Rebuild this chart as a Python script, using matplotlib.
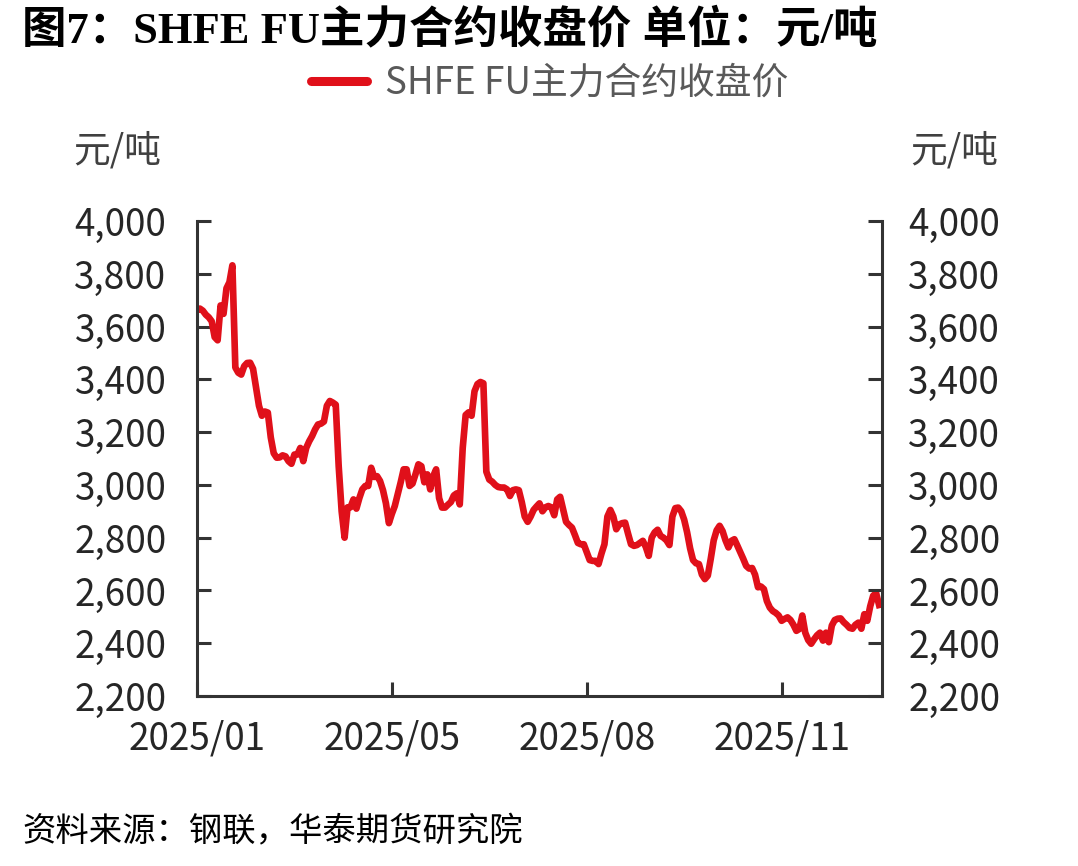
import matplotlib
matplotlib.use("Agg")
import matplotlib.pyplot as plt
from matplotlib.ticker import FuncFormatter, MultipleLocator

plt.rcParams["font.family"] = ["Noto Sans CJK SC", "DejaVu Sans"]

# SHFE FU main contract close, yuan/ton, one value per trading day
close_price = [
    3662, 3668, 3660, 3645, 3635, 3620, 3560, 3548, 3680, 3648,
    3745, 3768, 3832, 3445, 3425, 3418, 3450, 3462, 3463, 3440,
    3370, 3300, 3262, 3278, 3274, 3180, 3120, 3103, 3104, 3112,
    3108, 3090, 3080, 3115, 3115, 3140, 3090, 3140, 3165, 3185,
    3210, 3229, 3232, 3240, 3300, 3318, 3312, 3304, 3071, 2900,
    2800, 2915, 2915, 2945, 2910, 2950, 2983, 2996, 2996, 3065,
    3030, 3033, 3015, 2980, 2930, 2855, 2890, 2920, 2965, 3010,
    3059, 3059, 2996, 3005, 3040, 3078, 3071, 3010, 3040, 2983,
    3033, 3059, 2950, 2914, 2914, 2925, 2935, 2960, 2968, 2926,
    3140, 3265, 3275, 3262, 3355, 3382, 3390, 3385, 3050, 3020,
    3012, 3000, 2992, 2990, 2990, 2983, 2958, 2980, 2983, 2980,
    2935, 2880, 2860, 2880, 2905, 2918, 2930, 2900, 2915, 2920,
    2915, 2885, 2945, 2955, 2908, 2860, 2848, 2838, 2810, 2780,
    2775, 2775, 2745, 2715, 2712, 2712, 2700, 2740, 2775, 2880,
    2905, 2880, 2832, 2850, 2855, 2857, 2815, 2775, 2769, 2772,
    2780, 2788, 2765, 2731, 2800, 2820, 2830, 2807, 2800, 2790,
    2772, 2880, 2912, 2914, 2900, 2868, 2820, 2760, 2715, 2703,
    2700, 2660, 2643, 2656, 2720, 2790, 2828, 2845, 2825, 2790,
    2763, 2788, 2794, 2770, 2745, 2720, 2693, 2683, 2685, 2660,
    2612, 2615, 2605, 2560, 2535, 2522, 2515, 2505, 2485, 2492,
    2498, 2488, 2470, 2447, 2454, 2505, 2440, 2412, 2398, 2415,
    2430, 2440, 2410, 2440, 2404, 2467, 2488, 2493, 2494, 2480,
    2470, 2458, 2455, 2470, 2478, 2455, 2510, 2485, 2540, 2580,
    2590, 2545,
]
month_labels = ["2025/01", "2025/05", "2025/08", "2025/11"]
days_per_label = 66

series_name = "SHFE FU主力合约收盘价"
title = "图7：SHFE FU主力合约收盘价 单位：元/吨"
unit = "元/吨"
source = "资料来源：钢联，华泰期货研究院"

RED = "#E0101A"
AXIS = "#333333"
TXT = "#262626"

fig = plt.figure(figsize=(10.78, 8.66), dpi=100)
ax = fig.add_axes([0.1827, 0.1963, 0.6355, 0.5485])

x = list(range(len(close_price)))
ax.plot(x, close_price, color=RED, lw=4.8, solid_joinstyle="round", label=series_name)

ax.set_xlim(0, len(close_price))
ax.set_ylim(2200, 4000)
ax.yaxis.set_major_locator(MultipleLocator(200))
ax.yaxis.set_major_formatter(FuncFormatter(lambda v, p: f"{int(v):,}"))
ax.set_xticks([i * days_per_label for i in range(len(month_labels))])
ax.set_xticklabels(month_labels)

ax2 = ax.twinx()
ax2.set_ylim(ax.get_ylim())
ax2.yaxis.set_major_locator(MultipleLocator(200))
ax2.yaxis.set_major_formatter(FuncFormatter(lambda v, p: f"{int(v):,}"))

for a in (ax, ax2):
    a.spines["top"].set_visible(False)
    for s in a.spines.values():
        s.set_color(AXIS)
        s.set_linewidth(2.2)
    a.tick_params(direction="in", length=10, width=2.2, color=AXIS,
                  labelsize=26.5, labelcolor=TXT)
ax.tick_params(axis="y", pad=22)
ax.tick_params(axis="x", pad=17)
ax2.tick_params(axis="y", pad=19)
ax.spines["right"].set_visible(False)
ax2.spines["left"].set_visible(False)
ax2.spines["bottom"].set_visible(False)

leg = fig.legend(loc="center", bbox_to_anchor=(0.51, 0.904), frameon=False,
                 fontsize=26.5, handlelength=1.5, handletextpad=0.5)
for t in leg.get_texts():
    t.set_color("#595959")
for ln in leg.get_lines():
    ln.set_linewidth(6.5)
    ln.set_solid_capstyle("round")

fig.text(0.0204, 0.966, title, fontsize=32, fontweight="bold", va="center",
         ha="left", family=["Liberation Serif", "Noto Sans CJK SC"], color="black")
fig.text(0.068, 0.826, unit, fontsize=26.5, color="#404040", va="center", ha="left")
fig.text(0.844, 0.826, unit, fontsize=26.5, color="#404040", va="center", ha="left")
fig.text(0.0204, 0.039, source, fontsize=24, style="italic", color="black",
         va="center", ha="left")

fig.savefig("out.png", dpi=100)
